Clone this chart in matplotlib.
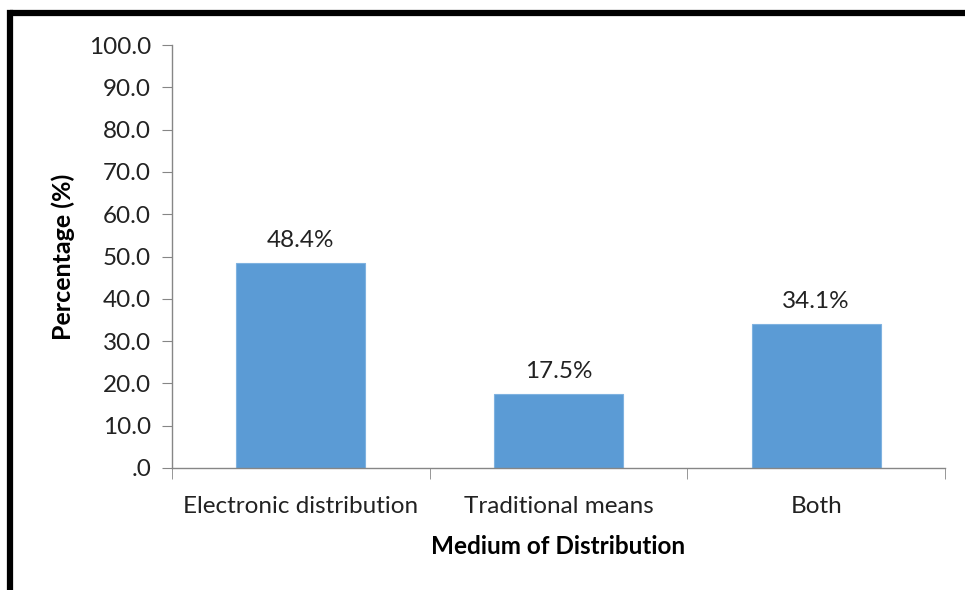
import matplotlib
matplotlib.use("Agg")
import matplotlib.pyplot as plt
from matplotlib.lines import Line2D
from matplotlib.ticker import FuncFormatter

categories = ["Electronic distribution", "Traditional means", "Both"]
percentages = [48.4, 17.5, 34.1]
y_ticks = [0, 10, 20, 30, 40, 50, 60, 70, 80, 90, 100]

BAR_COLOR = "#5B9BD5"
AXIS_COLOR = "#868686"
TEXT_COLOR = "#222222"
FS = 17.5

plt.rcParams["font.family"] = ["Lato", "DejaVu Sans"]


def fmt_tick(v, pos):
    s = f"{v:.1f}"
    return s[1:] if s.startswith("0") else s


def main():
    fig = plt.figure(figsize=(9.65, 5.9), dpi=100)
    ax = fig.add_axes([0.1782, 0.2068, 0.8011, 0.7169])

    x = list(range(len(categories)))
    ax.bar(x, percentages, width=0.5, color=BAR_COLOR, edgecolor="#7FB2E0",
           linewidth=0.8, zorder=2)

    for xi, v in zip(x, percentages):
        ax.text(xi, v + 2.8, f"{v}%", ha="center", va="bottom",
                fontsize=FS, color=TEXT_COLOR)

    ax.set_xlim(-0.5, len(categories) - 0.5)
    ax.set_ylim(0, 100)
    ax.set_yticks(y_ticks)
    ax.yaxis.set_major_formatter(FuncFormatter(fmt_tick))

    ax.set_xticks(x)
    ax.set_xticklabels(categories)
    ax.set_xticks([i - 0.5 for i in range(len(categories) + 1)], minor=True)
    ax.tick_params(axis="x", which="major", length=0, pad=20,
                   labelsize=FS, labelcolor=TEXT_COLOR)
    ax.tick_params(axis="x", which="minor", length=8, color=AXIS_COLOR,
                   direction="out")
    ax.tick_params(axis="y", length=7, color=AXIS_COLOR, pad=8,
                   labelsize=FS, labelcolor=TEXT_COLOR)

    for side in ("top", "right"):
        ax.spines[side].set_visible(False)
    for side in ("left", "bottom"):
        ax.spines[side].set_color(AXIS_COLOR)
        ax.spines[side].set_linewidth(1.0)

    ax.set_ylabel("Percentage (%)", fontsize=FS + 0.5, fontweight="bold",
                  labelpad=10, color="black")
    ax.set_xlabel("Medium of Distribution", fontsize=FS,
                  fontweight="bold", labelpad=13, color="black")

    # thick frame on top and left edges, as in the cropped source image
    fig.add_artist(Line2D([0.0104, 1.0], [0.978, 0.978], color="black",
                          linewidth=4.5, transform=fig.transFigure,
                          solid_capstyle="butt"))
    fig.add_artist(Line2D([0.0104, 0.0104], [0.0, 0.978], color="black",
                          linewidth=4.5, transform=fig.transFigure,
                          solid_capstyle="projecting"))

    fig.savefig("out.png", dpi=100)


if __name__ == "__main__":
    main()
